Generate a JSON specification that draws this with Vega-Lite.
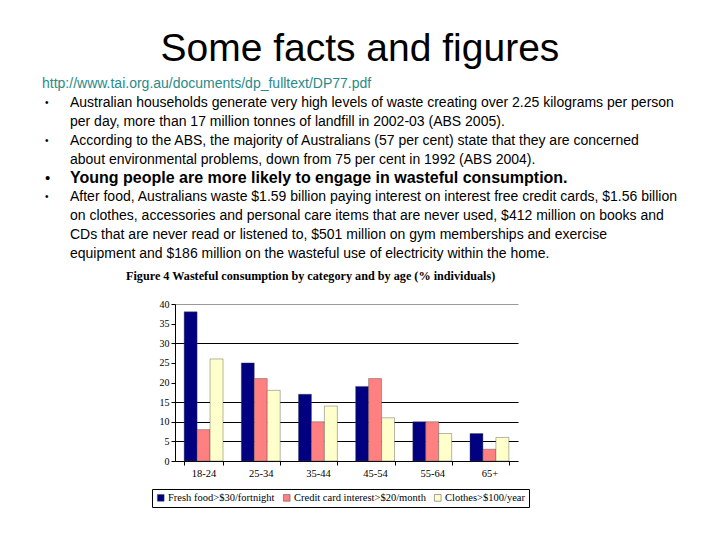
{
  "$schema": "https://vega.github.io/schema/vega-lite/v6.json",
  "padding": {"left": 42, "top": 30, "right": 5, "bottom": 5},
  "background": "white",
  "title": {"text": "Some facts and figures", "fontSize": 39, "font": "Liberation Sans", "fontWeight": "normal", "anchor": "middle", "color": "black", "offset": 8, "dx": 0},
  "config": {"view": {"stroke": null}},
  "bounds": "flush",
  "center": true,
  "spacing": 50,
  "vconcat": [
    {
      "width": 609,
      "height": 170,
      "data": {"values": [
        {"line": 0, "kind": "link", "bullet": false, "text": "http://www.tai.org.au/documents/dp_fulltext/DP77.pdf"},
        {"line": 1, "kind": "body", "bullet": true, "text": "Australian households generate very high levels of waste creating over 2.25 kilograms per person"},
        {"line": 2, "kind": "body", "bullet": false, "text": "per day, more than 17 million tonnes of landfill in 2002-03 (ABS 2005)."},
        {"line": 3, "kind": "body", "bullet": true, "text": "According to the ABS, the majority of Australians (57 per cent) state that they are concerned"},
        {"line": 4, "kind": "body", "bullet": false, "text": "about environmental problems, down from 75 per cent in 1992 (ABS 2004)."},
        {"line": 5, "kind": "heading", "bullet": true, "text": "Young people are more likely to engage in wasteful consumption."},
        {"line": 6, "kind": "body", "bullet": true, "text": "After food, Australians waste $1.59 billion paying interest on interest free credit cards, $1.56 billion"},
        {"line": 7, "kind": "body", "bullet": false, "text": "on clothes, accessories and personal care items that are never used, $412 million on books and"},
        {"line": 8, "kind": "body", "bullet": false, "text": "CDs that are never read or listened to, $501 million on gym memberships and exercise"},
        {"line": 9, "kind": "body", "bullet": false, "text": "equipment and $186 million on the wasteful use of electricity within the home."}
      ]},
      "encoding": {
        "y": {"field": "line", "type": "ordinal", "axis": null, "scale": {"type": "point", "padding": 0}}
      },
      "layer": [
        {
          "transform": [{"filter": "datum.kind == 'link'"}],
          "mark": {"type": "text", "align": "left", "baseline": "middle", "font": "Liberation Sans", "fontSize": 14, "color": "#2a8a8a"},
          "encoding": {"x": {"value": 0}, "text": {"field": "text"}}
        },
        {
          "transform": [{"filter": "datum.bullet"}],
          "mark": {"type": "text", "align": "left", "baseline": "middle", "font": "Liberation Sans", "text": "•", "color": "black"},
          "encoding": {
            "x": {"value": 3},
            "size": {"condition": {"test": "datum.kind == 'heading'", "value": 15}, "value": 10}
          }
        },
        {
          "transform": [{"filter": "datum.kind == 'body'"}],
          "mark": {"type": "text", "align": "left", "baseline": "middle", "font": "Liberation Sans", "fontSize": 14, "color": "black"},
          "encoding": {
            "x": {"value": 28},
            "text": {"field": "text"}
          }
        },
        {
          "transform": [{"filter": "datum.kind == 'heading'"}],
          "mark": {"type": "text", "align": "left", "baseline": "middle", "font": "Liberation Sans", "fontSize": 16, "fontWeight": "bold", "color": "black"},
          "encoding": {
            "x": {"value": 28},
            "text": {"field": "text"}
          }
        }
      ]
    },
    {
      "width": 343,
      "height": 157,
      "title": {"text": "Figure 4 Wasteful consumption by category and by age (% individuals)", "font": "Liberation Serif", "fontSize": 12.2, "fontWeight": "bold", "anchor": "start", "frame": "group", "dx": -49, "offset": 17, "color": "black"},
      "data": {"values": [
        {"age": "18-24", "category": "Fresh food>$30/fortnight", "value": 38},
        {"age": "18-24", "category": "Credit card interest>$20/month", "value": 8},
        {"age": "18-24", "category": "Clothes>$100/year", "value": 26},
        {"age": "25-34", "category": "Fresh food>$30/fortnight", "value": 25},
        {"age": "25-34", "category": "Credit card interest>$20/month", "value": 21},
        {"age": "25-34", "category": "Clothes>$100/year", "value": 18},
        {"age": "35-44", "category": "Fresh food>$30/fortnight", "value": 17},
        {"age": "35-44", "category": "Credit card interest>$20/month", "value": 10},
        {"age": "35-44", "category": "Clothes>$100/year", "value": 14},
        {"age": "45-54", "category": "Fresh food>$30/fortnight", "value": 19},
        {"age": "45-54", "category": "Credit card interest>$20/month", "value": 21},
        {"age": "45-54", "category": "Clothes>$100/year", "value": 11},
        {"age": "55-64", "category": "Fresh food>$30/fortnight", "value": 10},
        {"age": "55-64", "category": "Credit card interest>$20/month", "value": 10},
        {"age": "55-64", "category": "Clothes>$100/year", "value": 7},
        {"age": "65+", "category": "Fresh food>$30/fortnight", "value": 7},
        {"age": "65+", "category": "Credit card interest>$20/month", "value": 3},
        {"age": "65+", "category": "Clothes>$100/year", "value": 6}
      ]},
      "mark": {"type": "bar", "stroke": "#444", "strokeWidth": 0.4},
      "encoding": {
        "x": {
          "field": "age", "type": "nominal",
          "sort": ["18-24", "25-34", "35-44", "45-54", "55-64", "65+"],
          "scale": {"paddingInner": 0.32, "paddingOuter": 0.16},
          "axis": {"title": null, "labelAngle": 0, "labelFont": "Liberation Serif", "labelFontSize": 10.5, "labelColor": "black", "tickBand": "extent", "domainColor": "black", "tickColor": "black", "tickSize": 4, "labelPadding": 3}
        },
        "xOffset": {
          "field": "category", "type": "nominal",
          "sort": ["Fresh food>$30/fortnight", "Credit card interest>$20/month", "Clothes>$100/year"],
          "scale": {"paddingInner": 0, "paddingOuter": 0}
        },
        "y": {
          "field": "value", "type": "quantitative",
          "scale": {"domain": [0, 40], "nice": false},
          "axis": {
            "title": null, "values": [0, 5, 10, 15, 20, 25, 30, 35, 40],
            "labelFont": "Liberation Serif", "labelFontSize": 10, "labelColor": "black",
            "domainColor": "black", "tickColor": "black", "tickSize": 4, "labelPadding": 2,
            "grid": true,
            "gridColor": {"condition": {"test": "datum.value == 40", "value": "#999999"}, "value": "black"},
            "gridOpacity": {"condition": {"test": "datum.value == 0 || datum.value == 20 || datum.value == 25 || datum.value == 35", "value": 0}, "value": 1}
          }
        },
        "color": {
          "field": "category", "type": "nominal",
          "scale": {"domain": ["Fresh food>$30/fortnight", "Credit card interest>$20/month", "Clothes>$100/year"], "range": ["#000080", "#FF8080", "#FFFFCC"]},
          "legend": {"title": null, "orient": "none", "legendX": 110, "legendY": 405, "direction": "horizontal", "symbolType": "square", "symbolSize": 45, "symbolStrokeColor": "#444", "symbolStrokeWidth": 0.5, "labelFont": "Liberation Serif", "labelFontSize": 10.5, "labelColor": "black", "strokeColor": "black", "padding": 3.5, "columnPadding": 6, "symbolOffset": 0, "labelOffset": 2}
        }
      }
    }
  ]
}
